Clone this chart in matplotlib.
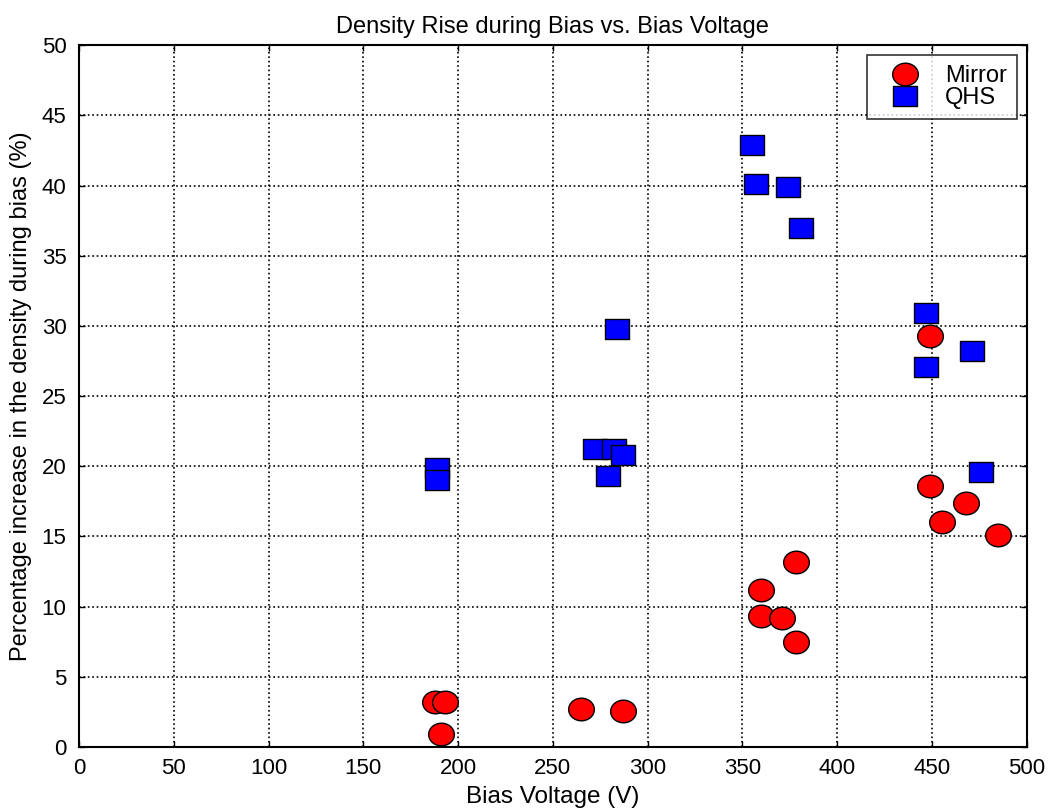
import matplotlib
matplotlib.use("Agg")
import matplotlib.pyplot as plt
from matplotlib.path import Path
from matplotlib.transforms import Affine2D

plt.rcParams["font.family"] = ["Liberation Sans", "DejaVu Sans"]

# --- data ---
mirror_v = [188, 193, 191, 265, 287, 360, 360, 371, 378, 378, 449, 449, 455, 468, 485]
mirror_pct = [3.2, 3.2, 0.9, 2.7, 2.6, 11.2, 9.3, 9.2, 13.2, 7.5, 29.3, 18.6, 16.0, 17.4, 15.1]

qhs_v = [189, 189, 272, 282, 287, 279, 284, 355, 357, 374, 381, 447, 447, 471, 476]
qhs_pct = [19.9, 19.0, 21.2, 21.2, 20.8, 19.3, 29.8, 42.9, 40.1, 39.9, 37.0, 30.9, 27.1, 28.2, 19.6]

xticks = list(range(0, 501, 50))
yticks = list(range(0, 51, 5))

# slightly squashed markers, like the stretched original
ellipse = Path.unit_circle().transformed(Affine2D().scale(1.0, 0.88))
box = Path([(-1, -0.83), (1, -0.83), (1, 0.83), (-1, 0.83), (-1, -0.83)],
           [Path.MOVETO, Path.LINETO, Path.LINETO, Path.LINETO, Path.CLOSEPOLY])

fig = plt.figure(figsize=(10.51, 8.09), dpi=100)
ax = fig.add_axes([0.0752, 0.0766, 0.9018, 0.8676])

ax.plot(mirror_v, mirror_pct, linestyle="none", marker=ellipse, markersize=18.5,
        markerfacecolor="red", markeredgecolor="black", markeredgewidth=1.0, label="Mirror")
ax.plot(qhs_v, qhs_pct, linestyle="none", marker=box, markersize=17.5,
        markerfacecolor="blue", markeredgecolor="black", markeredgewidth=1.0, label="QHS")

ax.set_xlim(0, 500)
ax.set_ylim(0, 50)
ax.set_xticks(xticks)
ax.set_yticks(yticks)
ax.tick_params(direction="in", length=4, width=1, top=True, right=True, labelsize=16)
ax.tick_params(axis="x", pad=8)
ax.tick_params(axis="y", pad=9)
ax.grid(True, color="black", linestyle=":", linewidth=1.2)
for s in ax.spines.values():
    s.set_linewidth(1.5)

ax.set_title("Density Rise during Bias vs. Bias Voltage", fontsize=17, pad=9)
ax.set_xlabel("Bias Voltage (V)", fontsize=17.5, labelpad=5)
ax.set_ylabel("Percentage increase in the density during bias (%)", fontsize=17, labelpad=7)

leg = ax.legend(loc="upper right", fontsize=17, frameon=True, fancybox=False,
                edgecolor="black", borderaxespad=0.42, handlelength=2.4,
                handletextpad=0.5, labelspacing=0.0, borderpad=0.42)
leg.get_frame().set_linewidth(1.2)

fig.savefig("out.png", dpi=100)
